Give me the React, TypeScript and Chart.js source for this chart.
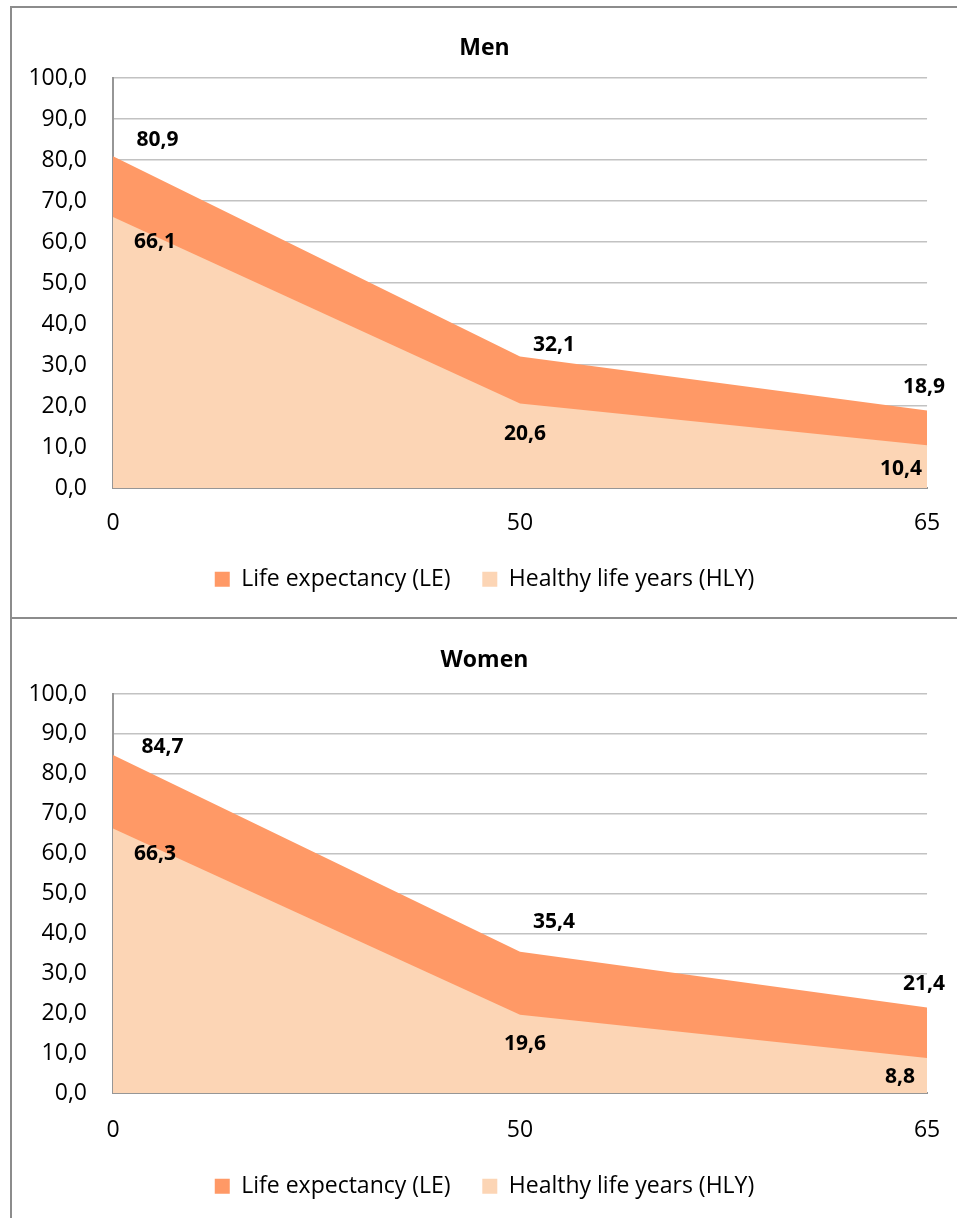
import React, { useEffect, useRef } from "react";
import { Chart, registerables } from "chart.js";

Chart.register(...registerables);

// ---- data ----
const AGES = ["0", "50", "65"];
const MEN_LE = [80.9, 32.1, 18.9];
const MEN_HLY = [66.1, 20.6, 10.4];
const WOMEN_LE = [84.7, 35.4, 21.4];
const WOMEN_HLY = [66.3, 19.6, 8.8];
const Y_MIN = 0;
const Y_MAX = 100;
const Y_STEP = 10;
const LE_LABEL = "Life expectancy (LE)";
const HLY_LABEL = "Healthy life years (HLY)";
const MEN_TITLE = "Men";
const WOMEN_TITLE = "Women";

// ---- styles ----
const LE_COLOR = "#FF9966";
const HLY_COLOR = "#FCD5B5";
const GRID_COLOR = "#C2C2C2";
const AXIS_COLOR = "#969696";
const FRAME_COLOR = "#8C8C8C";
const FONT = "'Open Sans', sans-serif";

// label offsets (px) relative to each point: [HLY dataset, LE dataset]
const MEN_LABEL_OFFSETS = [
  [[42, 25.5], [5, 30.5], [-26, 23.5]],
  [[44.5, -16.3], [34, -10.9], [-3, -23.5]],
];
const WOMEN_LABEL_OFFSETS = [
  [[42, 25.5], [5, 29.5], [-27, 19.5]],
  [[49.5, -8.5], [34, -29.5], [-3, -23.5]],
];

const fmt = (v: number) => v.toFixed(1).replace(".", ",");

const pointLabelPlugin = {
  id: "pointLabels",
  afterDatasetsDraw(chart: any, _args: any, opts: any) {
    const ctx = chart.ctx;
    ctx.save();
    ctx.font = `bold 21px ${FONT}`;
    ctx.fillStyle = "#000";
    ctx.textAlign = "center";
    ctx.textBaseline = "middle";
    chart.data.datasets.forEach((ds: any, di: number) => {
      const meta = chart.getDatasetMeta(di);
      const offs = opts.offsets[di];
      meta.data.forEach((pt: any, i: number) => {
        ctx.fillText(fmt(ds.data[i]), pt.x + offs[i][0], pt.y + offs[i][1]);
      });
    });
    ctx.restore();
  },
};

type Geo = {
  padTop: number;
  padBottom: number;
  titlePadBottom: number;
  xHeight: number;
  xLineHeight: number;
  legendPad: number;
};

function makeConfig(title: string, le: number[], hly: number[], offsets: any, g: Geo): any {
  return {
    type: "line",
    data: {
      labels: AGES,
      datasets: [
        {
          label: HLY_LABEL,
          data: hly,
          fill: "origin",
          backgroundColor: HLY_COLOR,
          borderColor: HLY_COLOR,
          borderWidth: 0,
          pointRadius: 0,
          tension: 0,
        },
        {
          label: LE_LABEL,
          data: le,
          fill: "origin",
          backgroundColor: LE_COLOR,
          borderColor: LE_COLOR,
          borderWidth: 0,
          pointRadius: 0,
          tension: 0,
        },
      ],
    },
    options: {
      animation: false,
      responsive: true,
      maintainAspectRatio: false,
      layout: { padding: { top: g.padTop, bottom: g.padBottom, left: 0, right: 0 } },
      plugins: {
        tooltip: { enabled: false },
        title: {
          display: true,
          text: title,
          color: "#000",
          font: { family: FONT, size: 23, weight: "bold", lineHeight: 1.2 },
          padding: { top: 0, bottom: g.titlePadBottom },
        },
        legend: {
          position: "bottom",
          reverse: true,
          labels: {
            boxWidth: 15,
            boxHeight: 15,
            padding: g.legendPad,
            color: "#000",
            font: { family: FONT, size: 23 },
          },
        },
        pointLabels: { offsets },
      },
      scales: {
        x: {
          type: "category",
          offset: false,
          grid: { display: false, drawTicks: false },
          border: { display: true, color: AXIS_COLOR, width: 2 },
          ticks: {
            color: "#000",
            padding: 16.8,
            autoSkip: false,
            maxRotation: 0,
            font: { family: FONT, size: 23, lineHeight: g.xLineHeight },
          },
          afterFit: (s: any) => {
            s.height = g.xHeight;
          },
        },
        y: {
          min: Y_MIN,
          max: Y_MAX,
          grid: { color: GRID_COLOR, lineWidth: 1.5, drawTicks: false },
          border: { display: true, color: AXIS_COLOR, width: 2 },
          ticks: {
            stepSize: Y_STEP,
            color: "#000",
            padding: 26,
            font: { family: FONT, size: 23, lineHeight: 1.2 },
            callback: (v: any) => fmt(Number(v)),
          },
          afterFit: (s: any) => {
            s.width = 101;
          },
        },
      },
    },
    plugins: [pointLabelPlugin],
  };
}

function AreaChart({ config }: { config: any }) {
  const ref = useRef<HTMLCanvasElement | null>(null);
  useEffect(() => {
    if (!ref.current) return;
    const chart = new Chart(ref.current, config);
    return () => chart.destroy();
  }, [config]);
  return <canvas ref={ref} />;
}

const menConfig = makeConfig(MEN_TITLE, MEN_LE, MEN_HLY, MEN_LABEL_OFFSETS, {
  padTop: 26.4,
  padBottom: 16.3,
  titlePadBottom: 16,
  xHeight: 48,
  xLineHeight: 1.643,
  legendPad: 31.7,
});
const womenConfig = makeConfig(WOMEN_TITLE, WOMEN_LE, WOMEN_HLY, WOMEN_LABEL_OFFSETS, {
  padTop: 27.9,
  padBottom: 10.3,
  titlePadBottom: 19.5,
  xHeight: 50,
  xLineHeight: 1.774,
  legendPad: 31.7,
});

export default function App() {
  return (
    <div
      style={{
        position: "fixed",
        left: 0,
        top: 0,
        width: 957,
        height: 1218,
        overflow: "hidden",
        background: "#fff",
      }}
    >
      <div style={{ position: "absolute", left: 12, top: 8, width: 945, height: 609 }}>
        <AreaChart config={menConfig} />
      </div>
      <div style={{ position: "absolute", left: 12, top: 619, width: 945, height: 599 }}>
        <AreaChart config={womenConfig} />
      </div>
      <div style={{ position: "absolute", left: 10, top: 6, width: 960, height: 2, background: FRAME_COLOR }} />
      <div style={{ position: "absolute", left: 10, top: 617, width: 960, height: 2, background: FRAME_COLOR }} />
      <div style={{ position: "absolute", left: 10, top: 6, width: 2, height: 1230, background: FRAME_COLOR }} />
    </div>
  );
}
